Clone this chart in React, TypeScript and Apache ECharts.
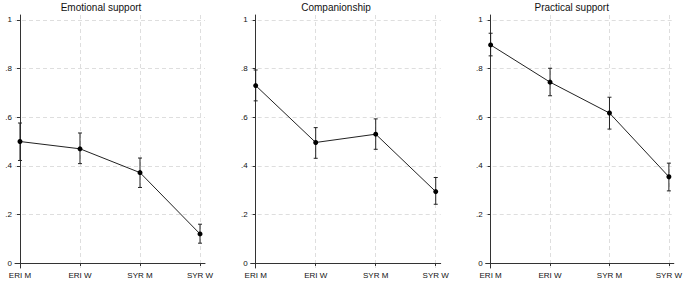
import React, { useEffect, useRef } from "react";
import * as echarts from "echarts";

const categories = ["ERI M", "ERI W", "SYR M", "SYR W"];
const panelTitles = ["Emotional support", "Companionship", "Practical support"];
const yTicks = [0, 0.2, 0.4, 0.6, 0.8, 1];

const emotionalMean = [0.5, 0.47, 0.372, 0.12];
const emotionalLow = [0.422, 0.409, 0.311, 0.082];
const emotionalHigh = [0.576, 0.535, 0.432, 0.16];

const companionMean = [0.73, 0.496, 0.53, 0.294];
const companionLow = [0.667, 0.431, 0.468, 0.242];
const companionHigh = [0.794, 0.557, 0.593, 0.352];

const practicalMean = [0.897, 0.744, 0.617, 0.355];
const practicalLow = [0.852, 0.688, 0.551, 0.297];
const practicalHigh = [0.945, 0.801, 0.682, 0.411];

const means = [emotionalMean, companionMean, practicalMean];
const lows = [emotionalLow, companionLow, practicalLow];
const highs = [emotionalHigh, companionHigh, practicalHigh];

const FONT = "'Liberation Sans', Arial, Helvetica, sans-serif";

export default function App() {
  const ref = useRef<HTMLDivElement>(null);
  useEffect(() => {
    if (!ref.current) return;
    const chart = echarts.init(ref.current, undefined, { renderer: "svg" });
    const gridLefts = [15, 250.7, 485.7];
    const titleCenters = [101, 336, 571.7];
    const grids = gridLefts.map((l) => ({ left: l, top: 15, width: 190, height: 253 }));
    const xAxes = gridLefts.map((_, i) => ({
      type: "value",
      gridIndex: i,
      min: -0.083,
      max: 3.083,
      axisLine: { show: true, lineStyle: { color: "#333", width: 1 } },
      axisTick: { show: true, length: 3, customValues: [0, 1, 2, 3], lineStyle: { color: "#333" } },
      axisLabel: {
        customValues: [0, 1, 2, 3],
        formatter: (v: number) => categories[Math.round(v)] ?? "",
        fontSize: 8,
        color: "#111",
        fontFamily: FONT,
        margin: 3,
      },
      splitLine: { show: true, lineStyle: { color: "#dedede", type: [4, 3], width: 1 } },
    }));
    const yAxes = gridLefts.map((_, i) => ({
      type: "value",
      gridIndex: i,
      min: -0.02,
      max: 1.02,
      axisLine: { show: true, lineStyle: { color: "#333", width: 1 } },
      axisTick: { show: true, length: 3, customValues: yTicks, lineStyle: { color: "#333" } },
      axisLabel: {
        customValues: yTicks,
        formatter: (v: number) => (v === 0 ? "0" : v === 1 ? "1" : "." + Math.round(v * 10)),
        fontSize: 8,
        color: "#111",
        fontFamily: FONT,
        margin: 3,
      },
      splitLine: { show: true, lineStyle: { color: "#dedede", type: [4, 3], width: 1 } },
    }));
    const series: any[] = [];
    for (let i = 0; i < 3; i++) {
      series.push({
        type: "custom",
        xAxisIndex: i,
        yAxisIndex: i,
        data: categories.map((_, j) => [j, lows[i][j], highs[i][j]]),
        renderItem: (params: any, api: any) => {
          const x = api.value(0);
          const lo = api.coord([x, api.value(1)]);
          const hi = api.coord([x, api.value(2)]);
          const st = { stroke: "#222", lineWidth: 1 };
          return {
            type: "group",
            children: [
              { type: "line", shape: { x1: lo[0], y1: lo[1], x2: hi[0], y2: hi[1] }, style: st },
              { type: "line", shape: { x1: lo[0] - 2, y1: lo[1], x2: lo[0] + 2, y2: lo[1] }, style: st },
              { type: "line", shape: { x1: hi[0] - 2, y1: hi[1], x2: hi[0] + 2, y2: hi[1] }, style: st },
            ],
          };
        },
        z: 3,
      });
      series.push({
        type: "line",
        xAxisIndex: i,
        yAxisIndex: i,
        data: means[i].map((v, j) => [j, v]),
        symbol: "circle",
        symbolSize: 5,
        lineStyle: { color: "#222", width: 1 },
        itemStyle: { color: "#000" },
        z: 4,
      });
    }
    chart.setOption({
      animation: false,
      backgroundColor: "#fff",
      grid: grids,
      xAxis: xAxes,
      yAxis: yAxes,
      series,
      graphic: panelTitles.map((t, i) => ({
        type: "text",
        x: titleCenters[i],
        y: 7.5,
        style: {
          text: t,
          fontSize: 10,
          fontFamily: FONT,
          fill: "#111",
          textAlign: "center",
          textVerticalAlign: "middle",
        },
      })),
    });
    return () => chart.dispose();
  }, []);
  return (
    <div
      ref={ref}
      style={{ position: "fixed", left: 0, top: 0, width: 685, height: 282, background: "#fff" }}
    />
  );
}
